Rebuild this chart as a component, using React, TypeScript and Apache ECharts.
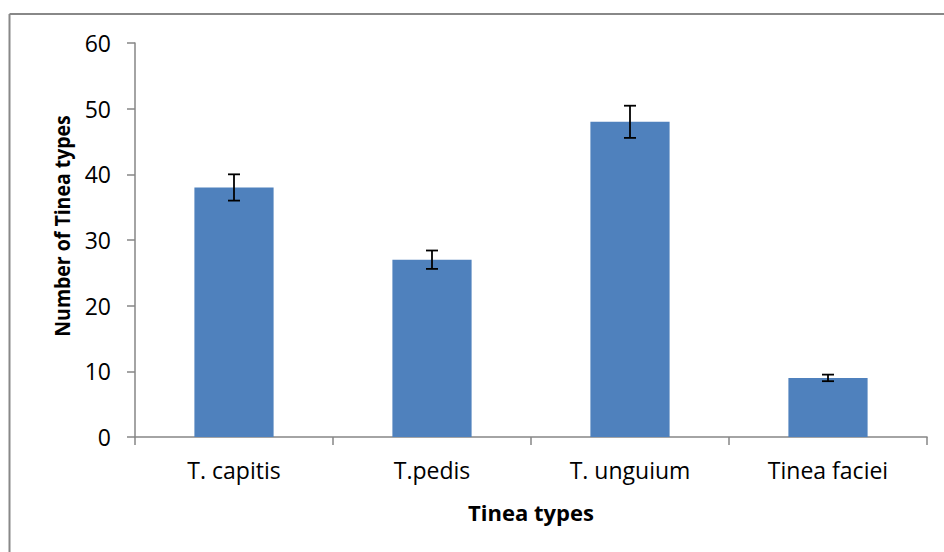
import React, { useEffect, useRef } from "react";
import * as echarts from "echarts";

const categories = ["T. capitis", "T.pedis", "T. unguium", "Tinea faciei"];
const values = [38, 27, 48, 9];
const errors = [2, 1.4, 2.45, 0.5];
const yTicks = { min: 0, max: 60, interval: 10 };

export default function App() {
  const ref = useRef<HTMLDivElement>(null);
  useEffect(() => {
    if (!ref.current) return;
    const chart = echarts.init(ref.current, null, { renderer: "svg" });
    const font = "Open Sans";
    const errData = values.map((v, i) => [i, v - errors[i], v + errors[i]]);
    chart.setOption({
      animation: false,
      backgroundColor: "#ffffff",
      grid: { left: 135, right: 17, top: 43, bottom: 115, containLabel: false },
      xAxis: {
        type: "category",
        data: categories,
        axisLine: { lineStyle: { color: "#868686", width: 1.5 } },
        axisTick: { show: true, length: 8, alignWithLabel: false, lineStyle: { color: "#868686", width: 1.5 } },
        axisLabel: { color: "#000", fontFamily: font, fontSize: 23, margin: 21 },
        splitLine: { show: false },
      },
      yAxis: {
        type: "value",
        min: yTicks.min,
        max: yTicks.max,
        interval: yTicks.interval,
        axisLine: { show: true, lineStyle: { color: "#868686", width: 1.5 } },
        axisTick: { show: true, length: 8, lineStyle: { color: "#868686", width: 1.5 } },
        axisLabel: { color: "#000", fontFamily: font, fontSize: 23, margin: 24 },
        splitLine: { show: false },
      },
      graphic: [
        { type: "line", shape: { x1: 9.5, y1: 14, x2: 944, y2: 14 }, style: { stroke: "#888", lineWidth: 2 } },
        { type: "line", shape: { x1: 9.5, y1: 14, x2: 9.5, y2: 552 }, style: { stroke: "#888", lineWidth: 2 } },
        {
          type: "text",
          x: 62,
          y: 226,
          rotation: Math.PI / 2,
          scaleX: 0.885,
          style: {
            text: "Number of Tinea types",
            fontFamily: font,
            fontWeight: "bold",
            fontSize: 22,
            fill: "#000",
            align: "center",
            verticalAlign: "middle",
          },
        },
        {
          type: "text",
          x: 531,
          y: 512,
          style: {
            text: "Tinea types",
            fontFamily: font,
            fontWeight: "bold",
            fontSize: 22,
            fill: "#000",
            align: "center",
            verticalAlign: "middle",
          },
        },
      ],
      series: [
        {
          type: "bar",
          data: values,
          barWidth: "40%",
          itemStyle: { color: "#4F81BD" },
        },
        {
          type: "custom",
          data: errData,
          z: 10,
          renderItem: (params: any, api: any) => {
            const x = api.value(0);
            const lo = api.coord([x, api.value(1)]);
            const hi = api.coord([x, api.value(2)]);
            const hw = 6;
            const style = { stroke: "#000", lineWidth: 1.8 };
            return {
              type: "group",
              children: [
                { type: "line", shape: { x1: lo[0], y1: lo[1], x2: hi[0], y2: hi[1] }, style },
                { type: "line", shape: { x1: hi[0] - hw, y1: hi[1], x2: hi[0] + hw, y2: hi[1] }, style },
                { type: "line", shape: { x1: lo[0] - hw, y1: lo[1], x2: lo[0] + hw, y2: lo[1] }, style },
              ],
            };
          },
        },
      ],
    });
    return () => chart.dispose();
  }, []);
  return (
    <div
      ref={ref}
      style={{ position: "absolute", left: 0, top: 0, width: 944, height: 552 }}
    />
  );
}
